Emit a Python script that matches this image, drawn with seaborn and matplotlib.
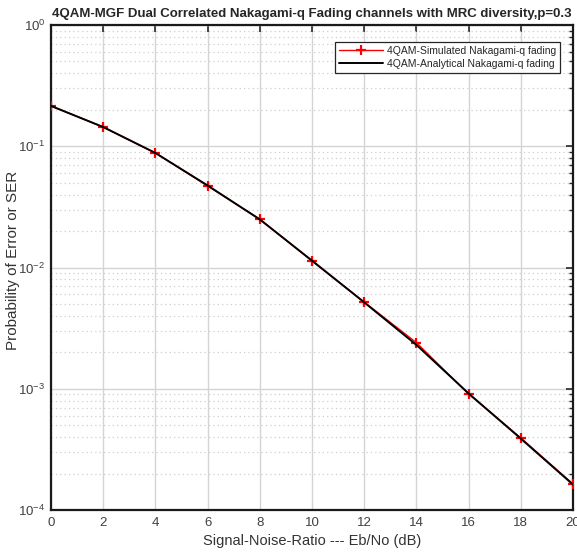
import numpy as np
import pandas as pd
import matplotlib
matplotlib.use("Agg")
import matplotlib.pyplot as plt
import seaborn as sns
from matplotlib.ticker import LogLocator, NullFormatter, NullLocator

snr_db = [0, 2, 4, 6, 8, 10, 12, 14, 16, 18, 20]
ser_simulated = [0.215, 0.144, 0.088, 0.047, 0.0251, 0.0113, 0.00519, 0.00240, 0.000905, 0.000393, 0.000164]
ser_analytical = [0.215, 0.144, 0.088, 0.0475, 0.0249, 0.0114, 0.00516, 0.00230, 0.000915, 0.000388, 0.000162]
x_ticks = [0, 2, 4, 6, 8, 10, 12, 14, 16, 18, 20]

sns.set_style("white")
plt.rcParams["font.family"] = ["Liberation Sans", "DejaVu Sans"]
plt.rcParams["mathtext.fontset"] = "custom"
plt.rcParams["mathtext.rm"] = "Liberation Sans"
plt.rcParams["mathtext.default"] = "regular"

df_sim = pd.DataFrame({"snr": snr_db, "ser": ser_simulated})
df_ana = pd.DataFrame({"snr": snr_db, "ser": ser_analytical})

fig = plt.figure(figsize=(5.77, 5.55), dpi=100)
ax = fig.add_axes([51 / 577, 1 - 510 / 555, 522 / 577, 485 / 555])

sns.lineplot(data=df_sim, x="snr", y="ser", ax=ax, color="red", lw=1.0,
             marker="+", markersize=7.5, markeredgewidth=1.6,
             markeredgecolor="red", markerfacecolor="red",
             label="4QAM-Simulated Nakagami-q fading", zorder=3)
sns.lineplot(data=df_ana, x="snr", y="ser", ax=ax, color="black", lw=1.4,
             label="4QAM-Analytical Nakagami-q fading", zorder=4)

ax.set_yscale("log")
ax.set_xlim(0, 20)
ax.set_ylim(1e-4, 1)
ax.set_xticks(x_ticks)
ax.set_xticklabels([str(t) for t in x_ticks])
ax.xaxis.set_minor_locator(NullLocator())
ax.yaxis.set_major_locator(LogLocator(base=10, numticks=10))
ax.yaxis.set_minor_locator(LogLocator(base=10, subs=np.arange(2, 10), numticks=50))
ax.yaxis.set_minor_formatter(NullFormatter())

ax.grid(True, which="major", color="#d4d4d4", lw=1.0, ls="-")
ax.yaxis.grid(True, which="minor", color="#cfcfcf", lw=0.9, ls=(0, (1, 2.5)))
ax.set_axisbelow(True)

ax.tick_params(axis="both", which="both", direction="in", top=True, right=True,
               colors="#262626", labelcolor="#404040", labelsize=9.5)
ax.tick_params(axis="both", which="major", length=5, width=1.2)
ax.tick_params(axis="y", which="minor", length=3, width=1.0)
ax.tick_params(axis="x", which="major", pad=5)
ax.tick_params(axis="y", which="major", pad=4)
for s in ax.spines.values():
    s.set_color("#1a1a1a")
    s.set_linewidth(1.6)

ax.set_xlabel("Signal-Noise-Ratio --- Eb/No (dB)", fontsize=10.5, color="#333333", labelpad=4)
ax.set_ylabel("Probability of Error or SER", fontsize=11, color="#333333")
ax.yaxis.set_label_coords(-0.059, 0.515)
ax.set_title("4QAM-MGF Dual Correlated Nakagami-q Fading channels with MRC diversity,p=0.3",
             fontsize=9.5, fontweight="bold", pad=6)

leg = ax.legend(loc="upper right", bbox_to_anchor=(0.986, 0.976), fontsize=7.5,
                frameon=True, fancybox=False, framealpha=1, edgecolor="#262626",
                handlelength=4.2, borderpad=0.4, labelspacing=0.3, handletextpad=0.4)
leg.get_frame().set_linewidth(0.9)

fig.savefig("out.png", dpi=100)
